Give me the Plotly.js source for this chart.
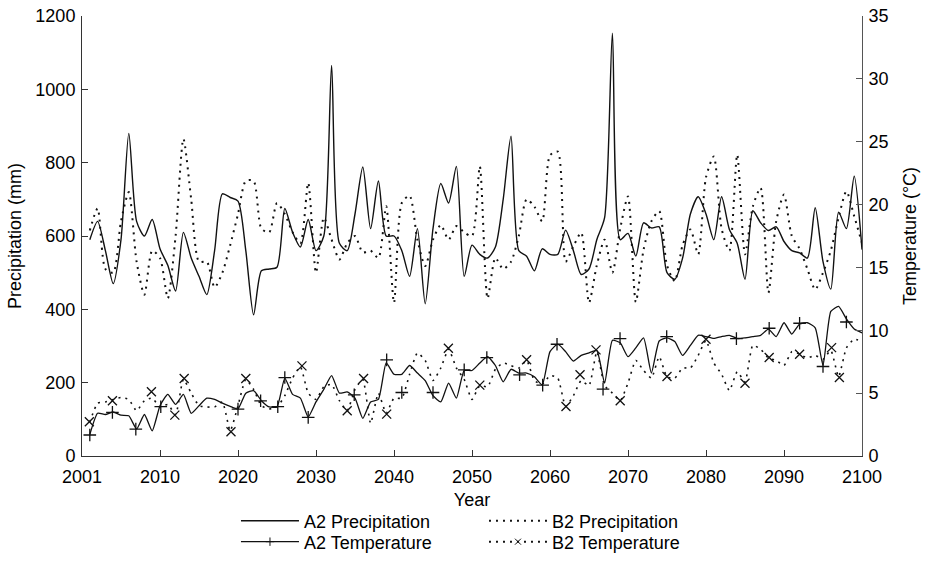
<!DOCTYPE html>
<html>
<head>
<meta charset="utf-8">
<script src="https://cdn.plot.ly/plotly-3.0.1.min.js"></script>
<style>html,body{margin:0;padding:0;background:#fff;}#chart{width:931px;height:571px;}</style>
</head>
<body>
<div id="chart"></div>
<script>
var years = [2001,2002,2003,2004,2005,2006,2007,2008,2009,2010,
2011,2012,2013,2014,2015,2016,2017,2018,2019,2020,
2021,2022,2023,2024,2025,2026,2027,2028,2029,2030,
2031,2032,2033,2034,2035,2036,2037,2038,2039,2040,
2041,2042,2043,2044,2045,2046,2047,2048,2049,2050,
2051,2052,2053,2054,2055,2056,2057,2058,2059,2060,
2061,2062,2063,2064,2065,2066,2067,2068,2069,2070,
2071,2072,2073,2074,2075,2076,2077,2078,2079,2080,
2081,2082,2083,2084,2085,2086,2087,2088,2089,2090,
2091,2092,2093,2094,2095,2096,2097,2098,2099,2100];

var a2Precip = [590,640,560,470,590,880,640,600,645,565,
520,450,610,540,490,440,560,715,705,695,
560,385,505,510,515,675,610,570,645,560,
600,1065,580,560,660,788,620,750,600,600,
560,490,620,415,620,743,690,790,490,575,
550,540,570,700,872,560,545,505,565,550,
550,616,560,495,510,590,650,1153,590,607,
545,636,622,625,500,482,540,660,707,660,
590,707,618,580,482,669,636,615,625,585,
560,554,540,677,530,455,665,620,763,563];

var b2Precip = [615,675,510,500,640,720,530,440,560,540,
430,600,865,700,530,530,460,500,575,660,
750,750,620,610,690,660,610,580,745,500,
650,590,536,580,600,555,560,540,681,418,
690,710,590,518,590,630,590,627,610,600,
790,430,540,510,530,600,700,680,640,820,
830,530,572,609,418,520,590,500,620,708,
420,563,640,668,520,477,575,618,550,760,
817,620,560,822,550,680,731,445,640,713,
600,565,510,454,500,560,650,722,654,581];

var a2Temp = [1.7,3.4,3.3,3.5,3.25,3.2,2.15,3.3,2.0,4.0,
4.9,4.1,4.9,3.4,4.0,4.6,4.5,4.2,3.95,3.75,
5.0,5.2,4.4,3.9,3.9,6.2,4.9,4.6,3.1,4.3,
5.3,6.4,5.0,5.1,4.6,3.0,4.3,4.5,7.4,6.5,
6.5,7.2,6.6,6.0,4.8,4.3,5.8,4.6,6.8,6.8,
7.4,7.9,7.2,5.9,6.9,6.6,6.6,6.3,5.65,8.3,
8.9,8.3,7.55,8.0,8.2,8.4,5.8,9.2,9.0,7.9,
8.6,9.4,6.6,9.15,9.4,9.1,8.0,8.8,9.6,9.5,
9.35,9.5,9.6,9.35,9.4,9.5,9.6,10.1,9.5,10.6,
9.7,10.5,10.6,10.2,7.2,11.5,11.9,10.9,10.1,9.8];

var b2Temp = [2.7,4.2,4.3,4.5,4.65,4.5,3.6,4.4,4.6,3.9,
4.1,3.3,6.1,5.0,4.0,3.9,3.9,4.3,2.0,4.0,
6.1,5.3,4.0,3.75,3.9,4.8,6.2,7.1,5.0,4.5,
5.5,5.7,4.4,3.6,5.3,6.1,2.6,5.0,3.4,4.6,
4.6,6.5,8.2,7.6,6.0,7.0,8.5,7.0,6.1,4.5,
5.6,5.5,6.9,7.4,7.2,7.0,7.6,6.0,5.7,6.4,
6.2,3.95,4.8,6.0,5.6,8.3,5.6,5.0,4.4,5.8,
7.6,6.8,6.2,7.9,6.3,6.2,7.0,7.0,8.0,9.2,
7.4,6.5,5.2,6.7,5.9,8.8,8.5,7.8,7.6,7.2,
8.3,8.1,7.8,8.0,7.7,8.4,6.3,8.6,9.3,9.1];

var a2MarkYears = [2001,2003.9,2006.9,2010.1,2020,2022.9,2025.1,2026,2029,2034.9,2039.06,2041,2045,2049,2051.9,2056.1,2059.06,2060.9,2066.8,2068.98,2074.96,2083.9,2088.1,2092,2095,2098];
var a2MarkTemp  = [1.67,3.47,2.14,3.92,3.73,4.39,3.92,6.24,3.07,4.87,7.65,5.05,5.05,6.85,7.83,6.46,5.64,8.89,5.32,9.34,9.50,9.34,10.16,10.56,7.12,10.66];

var b2MarkYears = [2000.94,2003.9,2008.9,2011.9,2013.1,2019.1,2021.0,2028.2,2034.0,2036.1,2039.06,2046.97,2051.0,2057.0,2062.05,2063.85,2065.9,2069.0,2075.0,2080.0,2085.0,2088.1,2092.0,2096.1,2097.1];
var b2MarkTemp  = [2.72,4.39,5.11,3.25,6.16,1.93,6.16,7.17,3.60,6.16,3.33,8.57,5.64,7.65,3.94,6.46,8.44,4.39,6.32,9.29,5.79,7.83,8.10,8.62,6.24];

var xTickVals = [2000,2010,2020,2030,2040,2050,2060,2070,2080,2090,2100];
var xTickText = ['2001','2010','2020','2030','2040','2050','2060','2070','2080','2090','2100'];

var seriesNames = ['A2 Precipitation','B2 Precipitation','A2 Temperature','B2 Temperature'];

var FONT = 'Liberation Sans, Arial, Helvetica, sans-serif';
var INK = '#111';
var dotDash = '2px,5px';

var traces = [
  {x: years, y: a2Precip, type: 'scatter', mode: 'lines', name: seriesNames[0],
   line: {color: INK, width: 1.4, shape: 'spline', smoothing: 0.7}, showlegend: false, yaxis: 'y'},
  {x: years, y: b2Precip, type: 'scatter', mode: 'lines', name: seriesNames[1],
   line: {color: INK, width: 2, dash: dotDash, shape: 'spline', smoothing: 0.7}, showlegend: false, yaxis: 'y'},
  {x: years, y: a2Temp, type: 'scatter', mode: 'lines', name: seriesNames[2],
   line: {color: INK, width: 1.3, shape: 'spline', smoothing: 0.5}, showlegend: false, yaxis: 'y2'},
  {x: years, y: b2Temp, type: 'scatter', mode: 'lines', name: seriesNames[3],
   line: {color: INK, width: 1.6, dash: dotDash, shape: 'spline', smoothing: 0.5}, showlegend: false, yaxis: 'y2'},
  {x: a2MarkYears, y: a2MarkTemp, type: 'scatter', mode: 'markers', name: seriesNames[2],
   marker: {symbol: 'cross-thin-open', size: 9, color: INK, line: {color: INK, width: 1.3}}, showlegend: false, yaxis: 'y2'},
  {x: b2MarkYears, y: b2MarkTemp, type: 'scatter', mode: 'markers', name: seriesNames[3],
   marker: {symbol: 'x-thin-open', size: 9, color: INK, line: {color: INK, width: 1.3}}, showlegend: false, yaxis: 'y2'},
  // legend entries
  {x: [null], y: [null], type: 'scatter', mode: 'lines', name: seriesNames[0],
   line: {color: INK, width: 1.4}, legend: 'legend', yaxis: 'y'},
  {x: [null], y: [null], type: 'scatter', mode: 'lines', name: seriesNames[1],
   line: {color: INK, width: 2, dash: dotDash}, legend: 'legend', yaxis: 'y'},
  {x: [null], y: [null], type: 'scatter', mode: 'lines+markers', name: seriesNames[2],
   line: {color: INK, width: 1.3}, marker: {symbol: 'cross-thin-open', size: 6, color: INK, line: {color: INK, width: 1}}, legend: 'legend2', yaxis: 'y2'},
  {x: [null], y: [null], type: 'scatter', mode: 'lines+markers', name: seriesNames[3],
   line: {color: INK, width: 2, dash: dotDash}, marker: {symbol: 'x-thin-open', size: 6, color: INK, line: {color: INK, width: 1}}, legend: 'legend2', yaxis: 'y2'}
];

var legendCommon = {orientation: 'h', entrywidth: 175, entrywidthmode: 'pixels', itemwidth: 58,
  font: {family: FONT, size: 18, color: '#000'}, bgcolor: 'rgba(0,0,0,0)', borderwidth: 0,
  x: 0.1974, xanchor: 'left', yanchor: 'middle', tracegroupgap: 0};

var layout = {
  width: 931, height: 571,
  margin: {l: 82, r: 69, t: 16, b: 114},
  paper_bgcolor: '#fff', plot_bgcolor: '#fff',
  font: {family: FONT, size: 18, color: '#000'},
  showlegend: true,
  xaxis: {range: [2000, 2100], tickmode: 'array', tickvals: xTickVals, ticktext: xTickText,
    ticks: 'inside', ticklen: 6, tickwidth: 1, tickcolor: '#333', showline: true, linecolor: '#333', linewidth: 1,
    showgrid: false, zeroline: false, mirror: false,
    title: {text: 'Year', font: {family: FONT, size: 18}, standoff: 7}, automargin: false, ticklabelstandoff: 4},
  yaxis: {range: [0, 1200], dtick: 200, tick0: 0, ticks: 'inside', ticklen: 6, tickcolor: '#333',
    showline: true, linecolor: '#333', linewidth: 1, showgrid: false, zeroline: false,
    title: {text: 'Precipitation (mm)', font: {family: FONT, size: 18}, standoff: 9}, automargin: false, ticklabelstandoff: 2},
  yaxis2: {range: [0, 35], dtick: 5, tick0: 0, overlaying: 'y', side: 'right', ticks: 'inside', ticklen: 6, tickcolor: '#555',
    showline: true, linecolor: '#555', linewidth: 1, showgrid: false, zeroline: false,
    title: {text: 'Temperature (°C)', font: {family: FONT, size: 18}, standoff: 15}, automargin: false, ticklabelstandoff: 2},
  legend: Object.assign({}, legendCommon, {y: -0.1451}),
  legend2: Object.assign({}, legendCommon, {y: -0.1927})
};

Plotly.newPlot('chart', traces, layout, {displayModeBar: false, staticPlot: true});
</script>
</body>
</html>
